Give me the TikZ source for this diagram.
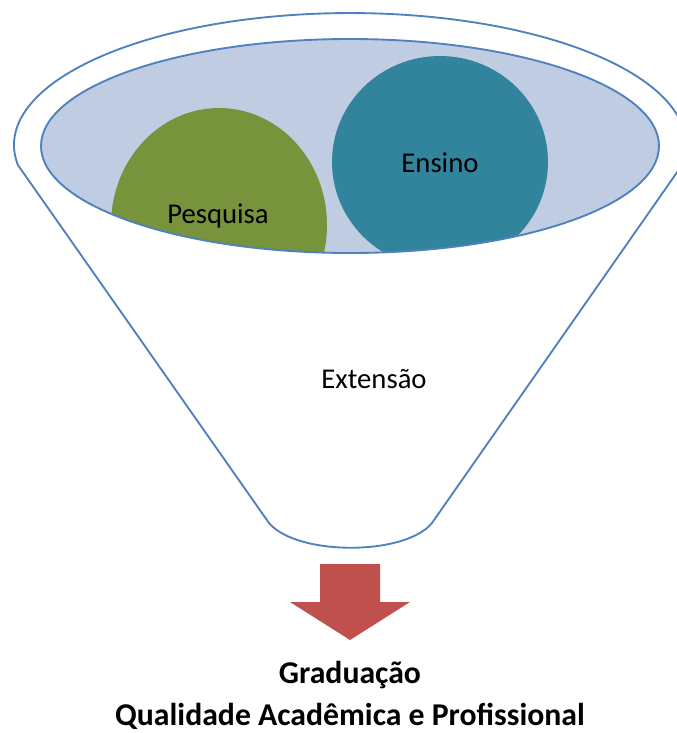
\documentclass[tikz,border=0pt]{standalone}
\usepackage{fontspec}
\setmainfont{Carlito}
\definecolor{rim}{HTML}{4F81BD}
\definecolor{bowl}{HTML}{C0CCE2}
\definecolor{pesq}{HTML}{77933C}
\definecolor{ens}{HTML}{31849B}
\definecolor{seta}{HTML}{C0504D}

\begin{document}
\begin{tikzpicture}[x=0.75pt, y=-0.75pt,
    rim/.style={draw=rim, line width=1.4pt},
    texto/.style={font=\fontsize{21.5}{24}\selectfont},
    titulo/.style={font=\fontsize{23.8}{27}\selectfont\bfseries}]
  \useasboundingbox (0,0) rectangle (676,733);

  % funil
  \draw[rim, fill=white] (17.9,165) arc[start angle=171.3, end angle=368.7, x radius=336, y radius=132]
      -- (432,523) .. controls (405,556) and (297,556) .. (269,523) -- cycle;

  % boca do funil
  \fill[bowl] (350,146) ellipse [x radius=309, y radius=107];
  \begin{scope}
    \clip (350,146) ellipse [x radius=309, y radius=107];
    \fill[pesq] (219,225) ellipse [x radius=108, y radius=117];
    \fill[ens] (440,162) ellipse [x radius=108, y radius=106];
  \end{scope}
  \draw[rim] (350,146) ellipse [x radius=309, y radius=107];

  \node[texto] (pesquisa) at (218,216) {Pesquisa};
  \node[texto] (ensino) at (440,163) {Ensino};
  \node[texto] (extensao) at (374,379) {Extensão};

  % seta
  \fill[seta] (320,564) -- (380,564) -- (380,602) -- (410,602) -- (350,640)
      -- (290,602) -- (320,602) -- cycle;

  \node[titulo] (graduacao) at (350,675) {Graduação};
  \node[titulo] (qualidade) at (350,716) {Qualidade Acadêmica e Profissional};
\end{tikzpicture}
\end{document}
